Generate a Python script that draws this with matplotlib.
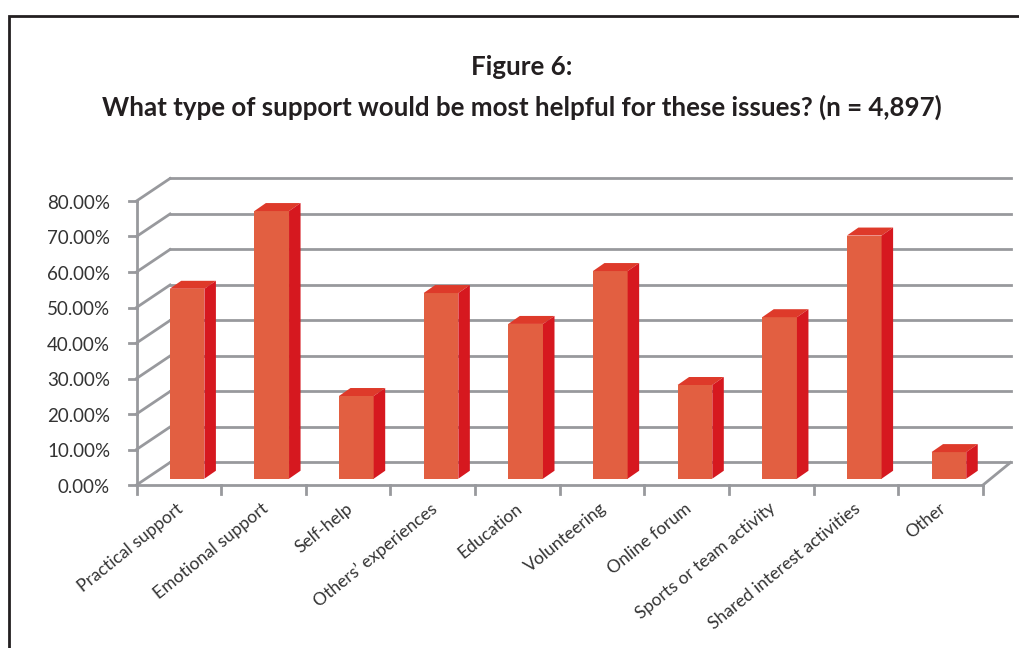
import matplotlib
matplotlib.use("Agg")
import matplotlib.pyplot as plt
from matplotlib.patches import Polygon

categories = ["Practical support", "Emotional support", "Self-help", "Others\u2019 experiences",
              "Education", "Volunteering", "Online forum", "Sports or team activity",
              "Shared interest activities", "Other"]
values = [53.5, 75.4, 23.3, 52.3, 43.6, 58.5, 26.4, 45.5, 68.5, 7.5]
y_ticks = [0, 10, 20, 30, 40, 50, 60, 70, 80]

W, H = 1019, 648
GRID = "#98999d"
FRONT = "#e25f41"
TOP = "#de3a2a"
SIDE = "#d6181f"
TEXT = "#333333"

# oblique depth of the floor and of the bars, in data units
DEPTH_X, DEPTH_Y = 0.396, 6.34
DEPTH_X_RIGHT = 0.325  # right edge of the floor is a bit steeper
BAR_OFF_X, BAR_OFF_Y = 0.097, 1.77
BAR_W = 0.41
BAR_DX, BAR_DY = 0.136, 2.25

plt.rcParams["font.family"] = ["Lato", "DejaVu Sans"]

fig = plt.figure(figsize=(W / 100, H / 100), dpi=100)

# black frame
frame = fig.add_axes([0, 0, 1, 1])
frame.set_xlim(0, W)
frame.set_ylim(H, 0)
frame.axis("off")
frame.plot([9.5, 9.5, 1019], [648, 16, 16], color="#231f20", lw=2, solid_joinstyle="miter")

ax = fig.add_axes([136.5 / W, 1 - 485 / H, (983 - 136.5) / W, (485 - 201) / H])
ax.set_xlim(0, 10)
ax.set_ylim(0, 80)
ax.axis("off")

# back wall gridlines and the slanted side wall lines
for t in y_ticks:
    ax.plot([DEPTH_X, 10 + DEPTH_X_RIGHT], [t + DEPTH_Y, t + DEPTH_Y], color=GRID, lw=2, clip_on=False, zorder=1)
    ax.plot([0, DEPTH_X], [t, t + DEPTH_Y], color=GRID, lw=2, clip_on=False, zorder=1)
    ax.plot([-0.085, 0], [t, t], color=GRID, lw=2, clip_on=False, zorder=1)
    ax.annotate(f"{t:.2f}%", (0, t), xytext=(-19, -1.5), textcoords="offset points", ha="right", va="center",
                fontsize=13.5, color=TEXT, annotation_clip=False)

# floor and axis lines
ax.plot([0, 0], [-2.5, 80], color=GRID, lw=2, clip_on=False, zorder=1)
ax.plot([0, 10], [0, 0], color=GRID, lw=2, clip_on=False, zorder=1)
ax.plot([10, 10 + DEPTH_X_RIGHT], [0, DEPTH_Y], color=GRID, lw=2, clip_on=False, zorder=1)
for i in range(1, 11):
    ax.plot([i, i], [-2.5, 0], color=GRID, lw=2, clip_on=False, zorder=1)

# bars
for i, (name, v) in enumerate(zip(categories, values)):
    x0 = i + 0.5 - BAR_W / 2 + BAR_OFF_X
    x1 = x0 + BAR_W
    y0 = BAR_OFF_Y
    y1 = y0 + v
    ax.add_patch(Polygon([(x0, y0), (x1, y0), (x1, y1), (x0, y1)], fc=FRONT, ec="none", zorder=3, clip_on=False))
    ax.add_patch(Polygon([(x0, y1), (x1, y1), (x1 + BAR_DX, y1 + BAR_DY), (x0 + BAR_DX, y1 + BAR_DY)],
                         fc=TOP, ec="none", zorder=3, clip_on=False))
    ax.add_patch(Polygon([(x1, y0), (x1 + BAR_DX, y0 + BAR_DY), (x1 + BAR_DX, y1 + BAR_DY), (x1, y1)],
                         fc=SIDE, ec="none", zorder=3, clip_on=False))
    ax.annotate(name, (i + 0.47, 0), xytext=(0, -11), textcoords="offset points", rotation=39,
                rotation_mode="anchor", ha="right", va="top", fontsize=12.6, color=TEXT, annotation_clip=False)

fig.text(522 / W, 1 - 67 / H, "Figure 6:", ha="center", va="center", fontsize=18.6, fontweight="bold", color="#231f20")
fig.text(522 / W, 1 - 107 / H, "What type of support would be most helpful for these issues? (n = 4,897)",
         ha="center", va="center", fontsize=18.6, fontweight="bold", color="#231f20")

fig.savefig("out.png", dpi=100)
